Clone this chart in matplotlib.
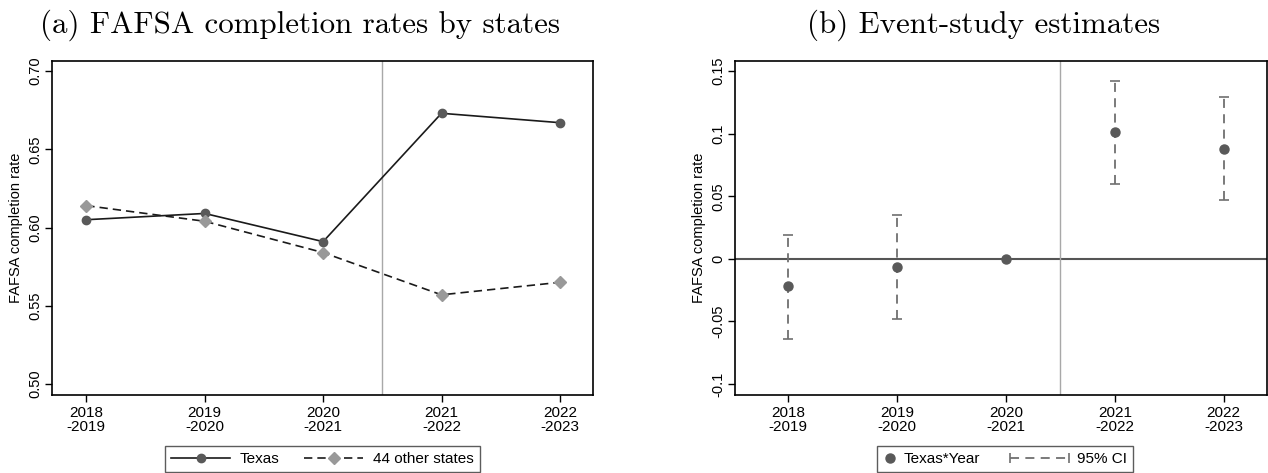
import numpy as np
import matplotlib
matplotlib.use("Agg")
import matplotlib.pyplot as plt
from matplotlib.lines import Line2D
from matplotlib.legend_handler import HandlerLine2D

plt.rcParams['font.family'] = ['Liberation Sans', 'DejaVu Sans']
plt.rcParams['axes.unicode_minus'] = False

# school years on the x axis
years = ['2018\n-2019', '2019\n-2020', '2020\n-2021', '2021\n-2022', '2022\n-2023']

# panel (a): completion rates
texas = [0.605, 0.609, 0.591, 0.673, 0.667]
others = [0.614, 0.604, 0.584, 0.557, 0.565]

# panel (b): event-study coefficients and 95% CI (2020-2021 is the reference year)
coef = [-0.022, -0.0065, 0.0, 0.101, 0.088]
ci_low = [-0.064, -0.048, 0.0, 0.060, 0.047]
ci_high = [0.019, 0.035, 0.0, 0.142, 0.129]

left_ticks = [0.50, 0.55, 0.60, 0.65, 0.70]
left_ticklabels = ['0.50', '0.55', '0.60', '0.65', '0.70']
right_ticks = [-0.1, -0.05, 0, 0.05, 0.1, 0.15]
right_ticklabels = ['-0.1', '-0.05', '0', '0.05', '0.1', '0.15']


class SizedHandler(HandlerLine2D):
    """Line2D legend handler with its own handle width (in font sizes)."""
    def __init__(self, width, **kw):
        super().__init__(**kw)
        self.width = width

    def legend_artist(self, legend, orig_handle, fontsize, handlebox):
        handlebox.width = self.width * fontsize
        return super().legend_artist(legend, orig_handle, fontsize, handlebox)


fig = plt.figure(figsize=(12.68, 4.73), dpi=100)
ax1 = fig.add_axes([0.041, 0.1649, 0.4267, 0.7061])
ax2 = fig.add_axes([0.5797, 0.1649, 0.4196, 0.7061])

x = np.arange(len(years))


def style_axes(ax):
    for s in ax.spines.values():
        s.set_linewidth(1.2)
        s.set_color('black')
    ax.tick_params(direction='out', length=5, width=1, colors='black',
                   top=False, right=False)
    ax.tick_params(axis='x', labelsize=11, pad=3)
    ax.tick_params(axis='y', labelsize=10.5, pad=2)
    for lab in ax.get_yticklabels():
        lab.set_rotation(90)
        lab.set_va('center')
    ax.set_xticks(x)
    ax.set_xticklabels(years, linespacing=1.0)
    ax.set_ylabel('FAFSA completion rate', fontsize=10.5, labelpad=4)


# ---- panel (a)
ax1.axvline(2.5, color='#a8a8a8', lw=1)
ax1.plot(x, texas, '-', color='#1a1a1a', lw=1.2, marker='o', ms=6,
         mfc='#595959', mec='#595959', label='Texas', zorder=3)
ax1.plot(x, others, '--', color='#1a1a1a', lw=1.2, dashes=(5, 3), marker='D',
         ms=6, mfc='#999999', mec='#999999', label='44 other states', zorder=3)
ax1.set_xlim(-0.29, 4.28)
ax1.set_ylim(0.493, 0.7064)
ax1.set_yticks(left_ticks)
ax1.set_yticklabels(left_ticklabels)
style_axes(ax1)
leg1 = ax1.legend(loc='upper center', bbox_to_anchor=(0.5, -0.153), ncol=2,
                  frameon=True, fancybox=False, edgecolor='#333333',
                  fontsize=11, handlelength=3.85, handletextpad=0.65,
                  columnspacing=1.6, borderpad=0.4, borderaxespad=0)
leg1.get_frame().set_linewidth(1)

# ---- panel (b)
ax2.axvline(2.5, color='#a8a8a8', lw=1)
ax2.axhline(0, color='#555555', lw=1.5, zorder=1)
coef = np.array(coef)
lo = np.array(ci_low)
hi = np.array(ci_high)
has_ci = hi > lo
eb = ax2.errorbar(x[has_ci], coef[has_ci],
                  yerr=[coef[has_ci] - lo[has_ci], hi[has_ci] - coef[has_ci]],
                  fmt='none', ecolor='#707070', elinewidth=1.3, capsize=3.5,
                  capthick=1.2, zorder=2)
eb[-1][0].set_linestyle((0, (5, 3.5)))
ax2.plot(x, coef, 'o', ms=6.5, color='#595959', zorder=3)
ax2.set_xlim(-0.49, 4.40)
ax2.set_ylim(-0.1088, 0.158)
ax2.set_yticks(right_ticks)
ax2.set_yticklabels(right_ticklabels)
style_axes(ax2)

h_pt = Line2D([], [], ls='none', marker='o', ms=6.5, color='#595959')
h_ci = Line2D([], [], ls=(0, (5, 3.5)), color='#707070', lw=1.3,
              marker='|', ms=7, mew=1.2)
leg2 = ax2.legend([h_pt, h_ci], ['Texas*Year', '95% CI'],
                  handler_map={h_pt: SizedHandler(0.8, numpoints=1),
                               h_ci: SizedHandler(3.85, numpoints=2, marker_pad=0)},
                  loc='upper center', bbox_to_anchor=(0.5075, -0.153), ncol=2,
                  frameon=True, fancybox=False, edgecolor='#333333',
                  fontsize=11, handletextpad=0.5, columnspacing=2.0,
                  borderpad=0.4, borderaxespad=0)
leg2.get_frame().set_linewidth(1)

# panel captions
fig.text(0.2366, 1 - 25 / 473, '(a) FAFSA completion rates by states',
         family='cmr10', fontsize=22.3, ha='center', va='center')
fig.text(0.776, 1 - 25 / 473, '(b) Event-study estimates',
         family='cmr10', fontsize=22.3, ha='center', va='center')

fig.savefig('out.png', dpi=100)
